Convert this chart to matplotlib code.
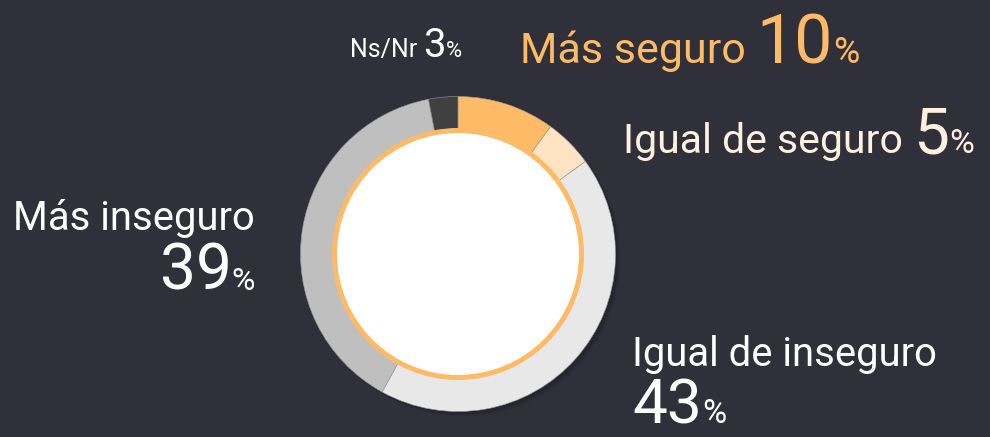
import matplotlib
matplotlib.use("Agg")
import matplotlib.pyplot as plt
from matplotlib.patches import Circle

# Data
labels = ['Más seguro', 'Igual de seguro', 'Igual de inseguro', 'Más inseguro', 'Ns/Nr']
values = [10, 5, 43, 39, 3]
colors = ['#FDBB67', '#FFE3C3', '#E8E8E8', '#BFBFBF', '#404040']
text_colors = ['#FDBB67', '#FFF0DF', '#FFFFFF', '#FFFFFF', '#FFFFFF']

BG = '#2F3039'
W, H = 990, 437
FONT = ['Roboto', 'DejaVu Sans']


def px(p):
    # pixel size -> points at dpi 100
    return p * 0.72


fig = plt.figure(figsize=(W / 100, H / 100), dpi=100)
fig.patch.set_facecolor(BG)

# donut axes, centre at (458, 254) px from top-left
cx, cy, R = 458, 254, 157.5
ax = fig.add_axes([(cx - 165) / W, (H - cy - 165) / H, 330 / W, 330 / H])
ax.set_xlim(-165, 165)
ax.set_ylim(-165, 165)
ax.set_aspect('equal')
ax.axis('off')

# soft shadow
for i in range(4):
    ax.add_patch(Circle((2 + i, -2 - i), R, color='#15161c', alpha=0.10, lw=0))

ax.pie(values, colors=colors, radius=R, startangle=90, counterclock=False,
       wedgeprops=dict(width=R - 125, linewidth=0.4, edgecolor='#9a9a9a'))
ax.set_xlim(-165, 165)
ax.set_ylim(-165, 165)
ax.add_patch(Circle((0, 0), 126, color='#FDBB67', lw=0))
ax.add_patch(Circle((0, 0), 121, color='white', lw=0))

fig.canvas.draw()
renderer = fig.canvas.get_renderer()


def place(parts, x, y, ha='left'):
    # parts: list of (text, pixel size, color); x, y in px from top-left (baseline)
    objs = []
    for s, size, c in parts:
        t = fig.text(0, 0, s, fontsize=px(size), color=c, family=FONT,
                     va='baseline', ha='left')
        objs.append(t)
    widths = [t.get_window_extent(renderer).width for t in objs]
    total = sum(widths)
    start = x - total if ha == 'right' else x
    for t, w in zip(objs, widths):
        t.set_position((start / W, (H - y) / H))
        start += w


# Ns/Nr
c = text_colors[4]
place([(labels[4] + ' ', 25, c), (f'{values[4]}', 40, c), ('%', 22, c)], 350, 57)
# Más seguro
c = text_colors[0]
place([(labels[0] + ' ', 43, c), (f'{values[0]}', 68, c), ('%', 36, c)], 520, 63)
# Igual de seguro
c = text_colors[1]
place([(labels[1] + ' ', 41, c), (f'{values[1]}', 64, c), ('%', 34, c)], 623, 153)
# Más inseguro
c = text_colors[3]
place([(labels[3], 40, c)], 255, 230, ha='right')
place([(f'{values[3]}', 64, c), ('%', 32, c)], 255, 290, ha='right')
# Igual de inseguro
c = text_colors[2]
place([(labels[2], 40, c)], 632, 366)
place([(f'{values[2]}', 62, c), ('%', 33, c)], 632, 423)

fig.savefig('out.png', dpi=100, facecolor=BG)
